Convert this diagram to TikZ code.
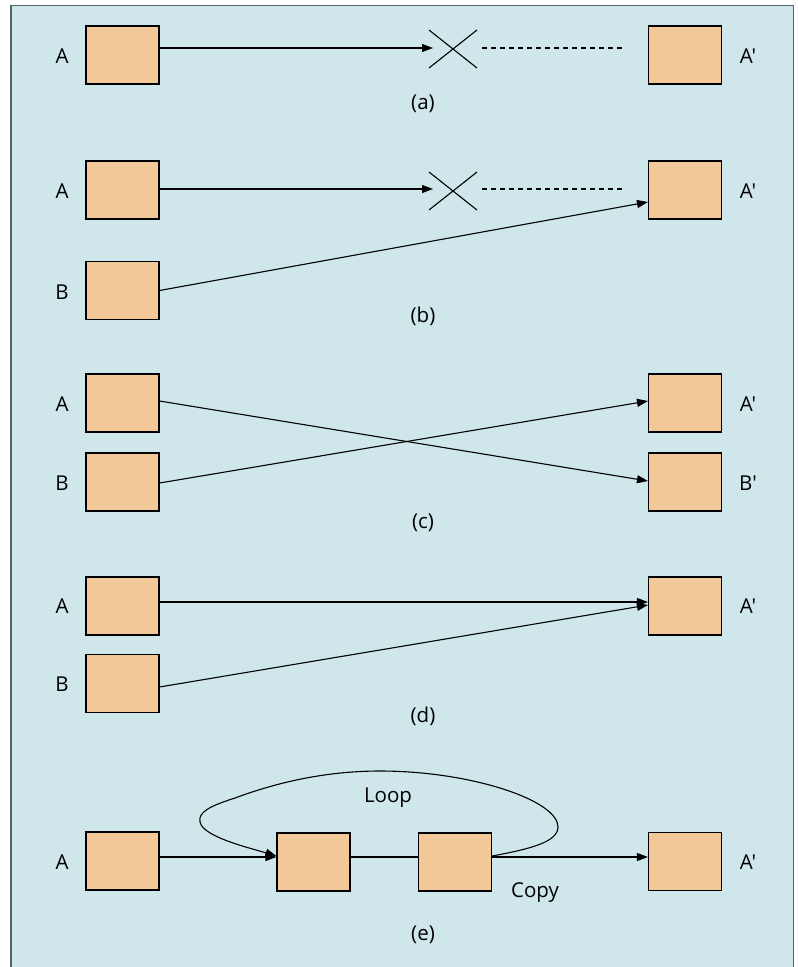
\documentclass[tikz,border=0pt]{standalone}
\usepackage{fontspec}
\setmainfont{Open Sans}[Ligatures=TeXOff]
\usetikzlibrary{arrows.meta}
\definecolor{panel}{RGB}{207,231,235}
\definecolor{boxfill}{RGB}{242,200,152}
\definecolor{framecol}{RGB}{88,98,100}
\tikzset{
  blk/.style={draw=black, line width=1.1pt, fill=boxfill, minimum width=73pt, minimum height=58pt, inner sep=0pt},
  lbl/.style={font=\fontsize{20.5}{24}\selectfont, anchor=base, inner sep=0pt},
  conn/.style={line width=1.1pt},
  arr/.style={conn, -{Triangle[length=11pt,width=8pt]}},
  dash line/.style={line width=1.1pt, dash pattern=on 5pt off 4pt},
  cross/.style={line width=1.1pt}
}
\begin{document}
\begin{tikzpicture}[x=1pt,y=-1pt]
\useasboundingbox (0,0) rectangle (798,967);
\fill[white] (0,0) rectangle (798,967);
\draw[framecol, line width=1.6pt, fill=panel] (11,5.5) rectangle (793.5,980);

% (a) connection lost
\node[blk] (aA) at (122.5,55) {};
\node[blk] (aAp) at (685,55) {};
\node[lbl] (aLA) at (62,63) {A};
\node[lbl] (aLAp) at (748,63) {A'};
\coordinate (aX) at (453,49);
\coordinate (aXin) at (433,48);
\coordinate (aDs) at (482,48);
\coordinate (aDe) at (622,48);
\draw[arr] (aA.east |- aXin) -- (aXin);
\draw[cross, shift={(aX)}] (-24,-19) -- (24,19) (-24,19) -- (24,-19);
\draw[dash line] (aDs) -- (aDe);
\node[lbl] (aCap) at (423,109) {(a)};

% (b) redirected
\node[blk] (bA) at (122.5,190) {};
\node[blk] (bB) at (122.5,290.5) {};
\node[blk] (bAp) at (685,190) {};
\node[lbl] (bLA) at (62,198) {A};
\node[lbl] (bLB) at (62,299) {B};
\node[lbl] (bLAp) at (748,198) {A'};
\coordinate (bX) at (453,191);
\coordinate (bXin) at (433,189);
\coordinate (bDs) at (482,189);
\coordinate (bDe) at (622,189);
\draw[arr] (bA.east |- bXin) -- (bXin);
\draw[cross, shift={(bX)}] (-24,-19) -- (24,19) (-24,19) -- (24,-19);
\draw[dash line] (bDs) -- (bDe);
\draw[arr] (bB.east) -- ([yshift=-12pt]bAp.west);
\node[lbl] (bCap) at (423,322) {(b)};

% (c) swapped
\node[blk] (cA) at (122.5,403) {};
\node[blk] (cB) at (122.5,482) {};
\node[blk] (cAp) at (685,403) {};
\node[blk] (cBp) at (685,482) {};
\node[lbl] (cLA) at (62,411) {A};
\node[lbl] (cLB) at (62,490) {B};
\node[lbl] (cLAp) at (748,411) {A'};
\node[lbl] (cLBp) at (748,490) {B'};
\draw[arr] ([yshift=2pt]cA.east) -- ([yshift=1pt]cBp.west);
\draw[arr] ([yshift=-1pt]cB.east) -- ([yshift=2pt]cAp.west);
\node[lbl] (cCap) at (423,528) {(c)};

% (d) merged
\node[blk] (dA) at (122.5,606) {};
\node[blk] (dB) at (122.5,683.5) {};
\node[blk] (dAp) at (685,606) {};
\node[lbl] (dLA) at (62,613) {A};
\node[lbl] (dLB) at (62,691) {B};
\node[lbl] (dLAp) at (748,613) {A'};
\draw[arr] ([yshift=4pt]dA.east) -- ([yshift=4pt]dAp.west);
\draw[arr] ([yshift=-3.5pt]dB.east) -- ([yshift=1pt]dAp.west);
\node[lbl] (dCap) at (423,722) {(d)};

% (e) loop and copy
\node[blk] (eA) at (122.5,861) {};
\node[blk] (eM) at (313.5,862) {};
\node[blk] (eN) at (455,862) {};
\node[blk] (eAp) at (685,861.5) {};
\node[lbl] (eLA) at (62,869) {A};
\node[lbl] (eLAp) at (748,869) {A'};
\draw[arr] ([yshift=4pt]eA.east) -- ([yshift=5pt]eM.west);
\draw[conn] ([yshift=5pt]eM.east) -- ([yshift=5pt]eN.west);
\draw[arr] ([yshift=5pt]eN.east) -- ([yshift=4.5pt]eAp.west);
\draw[conn, -{Triangle[length=11pt,width=8pt]}] ([yshift=6pt]eN.east)
  .. controls (530,849) and (558,842) .. (558,827)
  .. controls (558,800) and (470,771) .. (380,771)
  .. controls (320,771) and (270,785) .. (235,798)
  .. controls (210,806) and (198,812) .. (200,822)
  .. controls (203,837) and (250,848) .. ([yshift=6pt]eM.west);
\node[lbl] (eLoop) at (388,802) {Loop};
\node[lbl] (eCopy) at (535,897) {Copy};
\node[lbl] (eCap) at (423,940) {(e)};
\end{tikzpicture}
\end{document}
